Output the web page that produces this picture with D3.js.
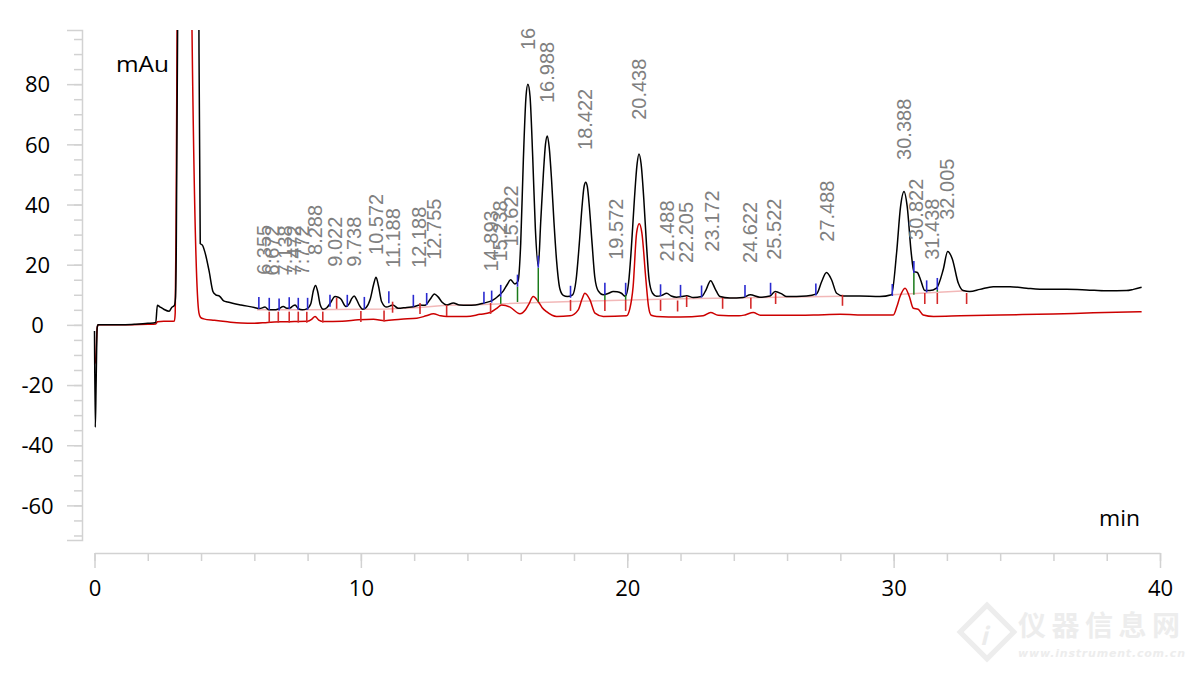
<!DOCTYPE html>
<html><head><meta charset="utf-8">
<script src="https://cdn.jsdelivr.net/npm/d3@7"></script>
<style>body{margin:0;background:#fff;}svg{display:block}</style>
</head><body><svg id="chart" width="1199" height="674"></svg>
<script>
// ---- data (retention time in min, absorbance in mAu) ----
const blackTrace = [[0.00,-2],[0.03,-34],[0.06,-20],[0.10,-1],[0.13,0],[0.5,0],[1.0,0],[1.5,0.2],[2.0,0.5],[2.3,0.8],[2.36,6.5],[2.45,6.0],[2.6,5.2],[2.8,4.5],[2.9,5.8],[3.0,6.5],[3.04,9],[3.07,25],[3.12,98],[3.2,300],[3.5,500],[3.85,300],[3.92,98],[3.97,27],[4.05,26.5],[4.15,24],[4.3,18],[4.45,11],[4.55,10],[4.7,9.5],[4.85,8],[5.0,7.6],[5.5,6.6],[6.0,5.8],[6.2,5.4],[6.4,5.9],[6.55,5.0],[6.75,5.0],[6.9,5.3],[7.09,6.1],[7.22,5.5],[7.34,5.6],[7.45,6.3],[7.53,6.6],[7.65,5.4],[7.8,5.0],[7.97,5.3],[8.12,7.0],[8.22,11.5],[8.30,13.1],[8.38,11],[8.47,6.8],[8.59,5.2],[8.72,5.7],[8.85,7.2],[9.03,9.4],[9.15,9.2],[9.25,8.6],[9.44,6.1],[9.56,7.0],[9.66,8.8],[9.75,9.6],[9.84,8.4],[9.95,6.4],[10.07,5.2],[10.2,5.8],[10.35,8.5],[10.48,13.5],[10.57,15.8],[10.66,13.0],[10.78,7.7],[10.97,5.9],[11.1,6.3],[11.2,6.6],[11.4,5.5],[11.72,5.8],[11.97,6.0],[12.22,6.6],[12.41,6.5],[12.6,8.5],[12.76,10.3],[12.9,9.3],[13.05,7.5],[13.22,6.6],[13.47,7.3],[13.7,6.6],[14.0,6.5],[14.3,6.6],[14.6,7.2],[14.97,8.3],[15.15,9.5],[15.35,11.3],[15.5,13.5],[15.62,15.0],[15.78,13.6],[15.9,14.5],[16.0,27],[16.1,55],[16.2,76],[16.27,80],[16.35,76],[16.45,56],[16.55,32],[16.66,19.4],[16.75,34],[16.85,50],[16.93,60],[17.0,62.8],[17.07,59],[17.16,48],[17.25,34],[17.35,21],[17.47,12],[17.6,9.8],[17.75,9.4],[17.95,10],[18.08,15],[18.2,27],[18.3,39],[18.38,46],[18.44,47.4],[18.5,46],[18.58,39],[18.68,27],[18.78,16],[18.91,11.3],[19.1,10],[19.3,10.5],[19.47,11.1],[19.62,11.0],[19.78,10.5],[19.93,9.5],[20.05,14],[20.15,25],[20.27,42],[20.37,53.5],[20.44,56.8],[20.52,53.5],[20.62,42],[20.72,27],[20.82,15],[20.95,10.5],[21.1,9.5],[21.3,9.8],[21.48,10.5],[21.65,9.6],[21.85,9.2],[22.04,9.4],[22.23,9.7],[22.48,9.1],[22.79,9.4],[22.95,11.5],[23.13,14.7],[23.3,12],[23.48,9.4],[23.85,8.9],[24.35,9.1],[24.62,10],[24.98,9.2],[25.36,9.6],[25.55,11.1],[25.8,10.3],[25.98,9.4],[26.73,9.6],[27.11,10.3],[27.3,14.4],[27.48,17.4],[27.67,15],[27.86,10.5],[28.11,9.6],[28.73,9.6],[29.48,9.4],[29.92,10],[30.11,23.8],[30.26,39.3],[30.39,44.3],[30.51,39.3],[30.66,24],[30.76,17.7],[30.89,17.4],[31.01,15],[31.17,11.4],[31.36,11.4],[31.61,12.2],[31.86,18.3],[32.03,24.4],[32.2,22],[32.43,13.8],[32.61,11.4],[32.86,11.1],[33.24,11.8],[33.74,12.7],[34.37,12.7],[34.99,12.2],[35.74,11.8],[36.49,11.8],[37.24,11.6],[37.99,11.3],[38.74,11.4],[39.0,11.8],[39.31,12.5]];

const redTrace = [[0.0,-13],[0.04,-12],[0.10,-1],[0.14,0],[1.0,0],[2.0,0.2],[2.3,0.3],[2.36,1.0],[2.6,1.2],[2.9,1.2],[3.0,1.3],[3.03,4],[3.06,30],[3.1,98],[3.2,300],[3.45,400],[3.6,200],[3.66,98],[3.92,4],[3.98,2.5],[4.1,2.0],[4.5,1.5],[5.0,1.0],[5.5,0.6],[6.0,0.5],[6.5,0.8],[7.0,1.0],[7.5,1.1],[8.0,1.2],[8.15,1.8],[8.28,2.8],[8.42,1.6],[8.6,1.1],[9.3,1.2],[9.9,1.7],[10.47,1.9],[10.9,1.4],[11.5,1.9],[12.1,2.2],[12.45,3.0],[12.72,3.7],[13.0,3.0],[13.22,2.8],[13.97,2.8],[14.47,3.5],[14.85,4.1],[15.1,5.5],[15.28,6.6],[15.6,5.9],[15.97,3.7],[16.18,5.0],[16.3,6.8],[16.47,9.4],[16.66,7.7],[16.8,5.8],[16.97,4.4],[17.35,2.8],[17.85,3.0],[18.16,5],[18.3,8.5],[18.41,10.5],[18.6,8.3],[18.79,3.9],[19.1,2.8],[19.97,3.0],[20.1,5.5],[20.22,12.7],[20.35,30.5],[20.45,33.6],[20.55,30.5],[20.70,15],[20.8,6.0],[20.9,3.2],[21.1,2.8],[22.0,2.6],[22.85,3.0],[23.13,4.1],[23.41,3.2],[24.2,3.0],[24.42,3.3],[24.73,4.1],[25.0,3.2],[26.0,3.2],[27.0,3.3],[28.0,3.5],[29.0,3.3],[29.99,3.3],[30.12,6],[30.24,9.4],[30.43,12.2],[30.59,9.4],[30.74,5.5],[30.92,5.2],[31.11,3.3],[31.5,2.8],[32.5,3.0],[34.0,3.3],[36.0,3.6],[37.5,4.0],[39.31,4.4]];

const baselineA = [[6.1,5.0],[8.0,5.0],[11.0,5.3],[12.2,5.8],[13.2,6.5],[14.6,6.8],[17.9,7.8],[22.0,8.7],[28.1,9.5]];
const baselineB = [[29.95,10.0],[32.74,11.3]];

const peakTimes  = [6.355,6.672,7.138,7.472,7.772,8.288,9.022,9.738,10.572,11.188,12.188,12.755,14.893,15.238,15.622,16.27,16.988,18.422,19.572,20.438,21.488,22.205,23.172,24.622,25.522,27.488,30.388,30.822,31.438,32.005];
const peakLabels = ["6.355","6.672","7.138","7.472","7.772","8.288","9.022","9.738","10.572","11.188","12.188","12.755","14.893","15.238","15.622","16","16.988","18.422","19.572","20.438","21.488","22.205","23.172","24.622","25.522","27.488","30.388","30.822","31.438","32.005"];
const peakLevels = [6.0,5.8,5.8,5.8,5.8,12.6,8.7,8.7,12.6,8.3,8.3,11.0,7.1,10.4,15.4,80.7,63.1,47.5,11.0,57.5,10.4,9.9,13.7,9.9,11.0,17.0,44.2,17.6,11.0,24.3];

const startMarks = [[6.17,5.3],[6.56,5.0],[6.93,4.8],[7.31,5.2],[7.65,5.0],[8.0,5.0],[8.84,6.0],[9.49,6.0],[10.13,5.3],[11.05,7.2],[11.97,6.0],[12.47,6.6],[14.62,7.0],[14.91,7.4],[15.25,9.3],[15.88,12.7],[16.66,19],[17.87,9.0],[19.16,10],[19.94,10],[21.25,9.5],[22.0,9.3],[22.79,9.1],[24.42,9.3],[25.38,10],[27.08,9.8],[29.95,9.6],[30.76,17.2],[31.24,10.8],[31.64,11.6]];
const endMarks = [[6.56,4.4],[6.9,4.4],[7.31,4.4],[7.65,4.4],[7.97,4.4],[8.57,4.4],[9.09,9.0],[10.0,4.6],[10.87,4.8],[11.19,7.7],[12.22,7.3],[13.22,6.6],[14.87,7.3],[17.87,8.3],[19.16,8.3],[19.94,8.3],[21.25,8.3],[21.89,8.1],[22.23,9.6],[23.58,9.0],[24.64,9.0],[25.57,10.6],[28.08,10.0],[31.17,10.6],[31.64,10.6],[32.74,10.6]];
const dropLines = [[15.25,9.3,7.0],[15.88,12.7,7.6],[16.66,19,7.6],[19.16,10,8.3],[19.94,10,8.3],[30.76,17.2,10.0],[31.64,11.6,11.0]];

const xMajorTicks = [0,10,20,30,40];
const yMajorTicks = [-60,-40,-20,0,20,40,60,80];

// ---- drawing ----
const svg = d3.select("#chart");
const x = d3.scaleLinear().domain([0,40]).range([94.5,1160]);
const y = d3.scaleLinear().domain([-71.5,98]).range([540,30]);
const axisColor = "#d2d2d2";
const axisFont = "'Open Sans','Noto Sans',sans-serif";

svg.append("defs").append("clipPath").attr("id","plot")
  .append("rect").attr("x",83).attr("y",30).attr("width",1160-83).attr("height",510);

// watermark
const wm = svg.append("g").attr("opacity",0.9);
wm.append("rect").attr("x",968).attr("y",613).attr("width",38).attr("height",38)
  .attr("transform","rotate(45 987 632)").attr("fill","none").attr("stroke","#ececec").attr("stroke-width",5);
wm.append("text").attr("x",980).attr("y",645).attr("font-family","'Noto Sans CJK SC'").attr("font-size",24)
  .attr("font-style","italic").attr("font-weight","bold").attr("fill","#eaeaea").text("i");
wm.append("text").attr("x",1018).attr("y",636).attr("font-family","'Noto Sans CJK SC'").attr("font-weight","bold")
  .attr("font-size",28).attr("fill","#ececec").attr("textLength",162).text("仪器信息网");
wm.append("text").attr("x",1018).attr("y",657).attr("font-family","'DejaVu Sans'").attr("font-weight","bold")
  .attr("font-style","italic").attr("font-size",11).attr("fill","#ececec").attr("textLength",167).text("www.instrument.com.cn");

// y axis
const yAxisG = svg.append("g").attr("transform","translate(82,0)");
yAxisG.call(d3.axisLeft(y).tickValues(d3.range(-70,96,5)).tickSize(8).tickSizeOuter(15).tickFormat(""));
const yMajor = svg.append("g").attr("transform","translate(82,0)")
  .call(d3.axisLeft(y).tickValues(yMajorTicks).tickSize(15).tickSizeOuter(0).tickFormat(d=>String(d)));
yMajor.select(".domain").remove();
[yAxisG,yMajor].forEach(g=>{g.selectAll("path,line").attr("stroke",axisColor).attr("stroke-width",1.5);});
yMajor.selectAll("text").attr("x",-44.5).attr("dy","0.35em").attr("text-anchor","middle")
  .attr("font-family",axisFont).attr("font-size",22).attr("fill","#000");

// x axis
const xMinor = svg.append("g").attr("transform","translate(0,553)")
  .call(d3.axisBottom(x).tickValues(d3.range(0,41,2)).tickSize(8).tickSizeOuter(0).tickFormat(""));
const xMajor = svg.append("g").attr("transform","translate(0,553)")
  .call(d3.axisBottom(x).tickValues(xMajorTicks).tickSize(15).tickSizeOuter(0).tickFormat(d=>String(d)));
xMajor.select(".domain").remove();
[xMinor,xMajor].forEach(g=>{g.selectAll("path,line").attr("stroke",axisColor).attr("stroke-width",1.5);});
xMajor.selectAll("text").attr("y",35).attr("dy","0.35em")
  .attr("font-family",axisFont).attr("font-size",22).attr("fill","#000");

// units
svg.append("text").attr("x",116).attr("y",72).attr("font-family",axisFont).attr("font-size",22)
  .attr("textLength",53).attr("lengthAdjust","spacingAndGlyphs").text("mAu");
svg.append("text").attr("x",1099).attr("y",526).attr("font-family",axisFont).attr("font-size",22)
  .attr("textLength",41).attr("lengthAdjust","spacingAndGlyphs").text("min");

const plot = svg.append("g").attr("clip-path","url(#plot)");
const line = d3.line().x(d=>x(d[0])).y(d=>y(d[1])).curve(d3.curveMonotoneX);

// integration baselines
[baselineA,baselineB].forEach(seg=>{
  plot.append("path").datum(seg).attr("d",d3.line().x(d=>x(d[0])).y(d=>y(d[1])))
    .attr("fill","none").attr("stroke","#f2b8b8").attr("stroke-width",1.5);
});

// red trace
plot.append("path").datum(redTrace).attr("d",line).attr("fill","none")
  .attr("stroke","#cc0000").attr("stroke-width",1.5);

// black trace
plot.append("path").datum(blackTrace).attr("d",line).attr("fill","none")
  .attr("stroke","#000").attr("stroke-width",1.5);

// drop lines
plot.selectAll(".drop").data(dropLines).join("line")
  .attr("x1",d=>x(d[0])).attr("x2",d=>x(d[0])).attr("y1",d=>y(d[1])).attr("y2",d=>y(d[2]))
  .attr("stroke","#1a7a1a").attr("stroke-width",1.5);

// start markers (blue, upward)
plot.selectAll(".sm").data(startMarks).join("line")
  .attr("x1",d=>x(d[0])).attr("x2",d=>x(d[0])).attr("y1",d=>y(d[1])).attr("y2",d=>y(d[1])-12)
  .attr("stroke","#2a2ad0").attr("stroke-width",1.6);

// end markers (red, downward)
plot.selectAll(".em").data(endMarks).join("line")
  .attr("x1",d=>x(d[0])).attr("x2",d=>x(d[0])).attr("y1",d=>y(d[1])).attr("y2",d=>y(d[1])+11)
  .attr("stroke","#d42a2a").attr("stroke-width",1.6);

// peak labels
svg.append("g").selectAll("text").data(peakTimes).join("text")
  .attr("transform",(t,i)=>`translate(${x(t)},${y(peakLevels[i])-32}) rotate(-90)`)
  .attr("dy","0.35em").attr("font-family","Arial,'Liberation Sans',sans-serif")
  .attr("font-size",20).attr("fill","#808080").text((t,i)=>peakLabels[i]);
</script></body></html>
